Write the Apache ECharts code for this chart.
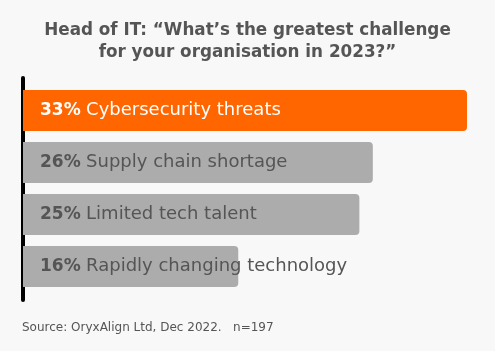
<!DOCTYPE html>
<html>
<head>
<meta charset="utf-8">
<script src="https://cdn.jsdelivr.net/npm/echarts@6/dist/echarts.min.js"></script>
<style>
  html, body { margin: 0; padding: 0; background: #f8f8f8; }
  #chartsDiv { width: 495px; height: 351px; }
</style>
</head>
<body>
<div id="chartsDiv"></div>
<script>
var categories = ['Cybersecurity threats', 'Supply chain shortage', 'Limited tech talent', 'Rapidly changing technology']
var percents = [33, 26, 25, 16]
var barColors = ['#ff6600', '#acacac', '#acacac', '#acacac']
var labelColors = ['#ffffff', '#555555', '#555555', '#555555']

var chart = echarts.init(document.getElementById('chartsDiv'), null, { renderer: 'canvas' })

var seriesData = percents.map(function(v, i) {
  return {
    value: v,
    itemStyle: { color: barColors[i] },
    label: { rich: { b: { color: labelColors[i] }, n: { color: labelColors[i] } } }
  }
})

var option = {
  backgroundColor: '#f8f8f8',
  title: {
    text: 'Head of IT: \u201cWhat\u2019s the greatest challenge\nfor your organisation in 2023?\u201d',
    left: 'center',
    top: 15,
    textStyle: {
      color: '#555555',
      fontFamily: 'DejaVu Sans',
      fontWeight: 'bold',
      fontSize: 16.8,
      lineHeight: 22
    }
  },
  graphic: [
    {
      type: 'text',
      left: 22,
      top: 322,
      style: {
        text: 'Source: OryxAlign Ltd, Dec 2022.   n=197',
        fill: '#555555',
        font: '12px DejaVu Sans'
      }
    }
  ],
  grid: [
    // bars
    { left: 23, right: 28, top: 84.5, bottom: 58.5 },
    // the black baseline, a bit taller than the bars
    { left: 23, right: 28, top: 78, bottom: 51 }
  ],
  xAxis: [
    { gridIndex: 0, type: 'value', min: 0, max: 33, show: false },
    { gridIndex: 1, type: 'value', min: 0, max: 33, show: false }
  ],
  yAxis: [
    {
      gridIndex: 0,
      type: 'category',
      inverse: true,
      data: categories,
      axisLine: { show: false },
      axisTick: { show: false },
      axisLabel: { show: false },
      splitLine: { show: false }
    },
    {
      gridIndex: 1,
      type: 'value',
      min: 0,
      max: 1,
      axisLine: { show: true, lineStyle: { color: '#000000', width: 4 } },
      axisTick: { show: false },
      axisLabel: { show: false },
      splitLine: { show: false }
    }
  ],
  series: [
    {
      type: 'bar',
      xAxisIndex: 0,
      yAxisIndex: 0,
      barWidth: 41,
      z: 1,
      itemStyle: { borderRadius: [0, 4, 4, 0] },
      label: {
        show: true,
        position: 'insideLeft',
        distance: 17,
        fontFamily: 'DejaVu Sans',
        fontSize: 17,
        formatter: function(p) {
          return '{b|' + p.value + '%} {n|' + categories[p.dataIndex] + '}'
        },
        rich: {
          b: { fontWeight: 'bold', fontSize: 17, fontFamily: 'DejaVu Sans' },
          n: { fontSize: 18, fontFamily: 'DejaVu Sans' }
        }
      },
      data: seriesData
    }
  ]
}

chart.setOption(option)
</script>
</body>
</html>
